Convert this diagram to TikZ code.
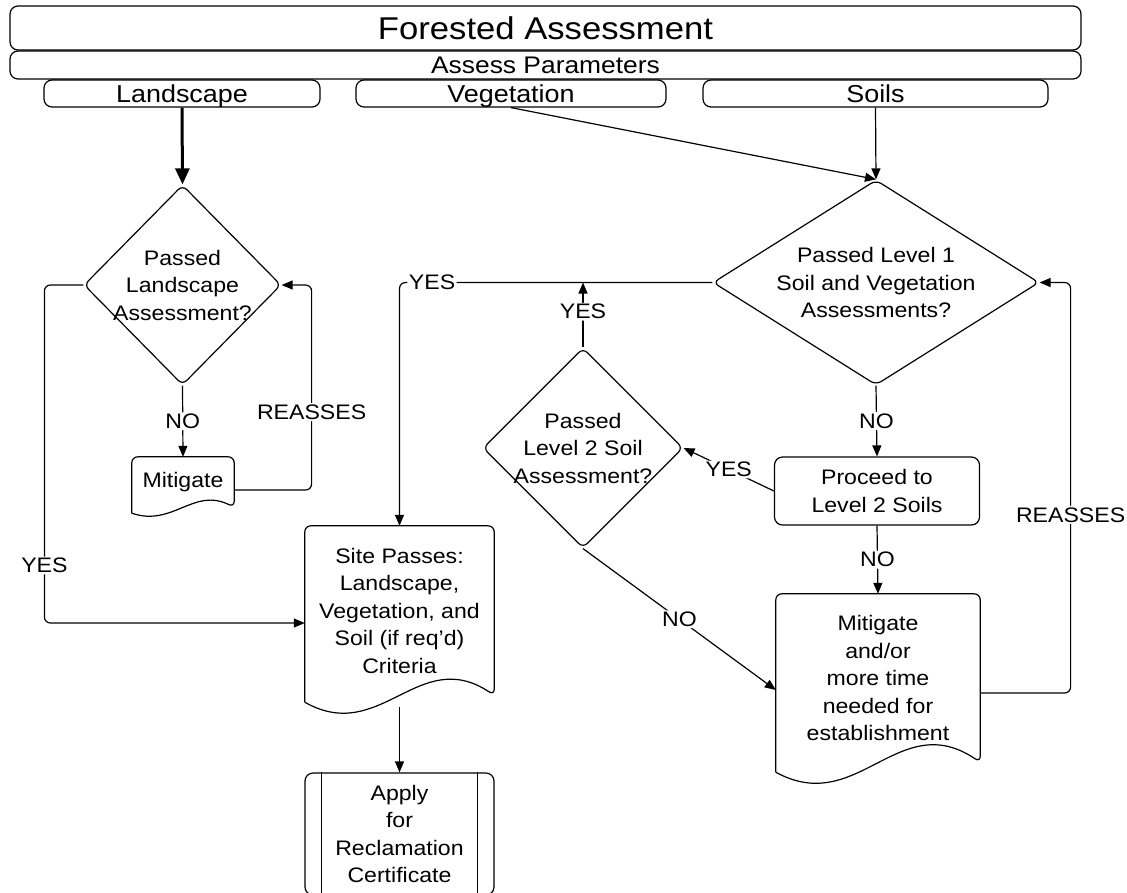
\documentclass[tikz,border=0pt]{standalone}
\usepackage{fontspec}
\setmainfont{Liberation Sans}[FakeStretch=1.1]
\usetikzlibrary{shapes.geometric,arrows.meta,calc}

\tikzset{
  outline/.style={draw, line width=1.2pt},
  bar/.style={outline, rectangle, rounded corners=8pt, inner sep=0pt, text depth=0pt},
  decision/.style={outline, diamond, rounded corners=6pt, inner sep=0pt},
  procbox/.style={outline, rectangle, rounded corners=8pt, inner sep=0pt, align=center},
  docbox/.style={rectangle, inner sep=0pt, align=center},
  conn/.style={line width=1.2pt, rounded corners=6pt, -{Triangle[length=11pt,width=9pt]}},
  lbl/.style={fill=white, inner sep=1.5pt},
}

% document shape: node, wave height, drop of the left corner
\newcommand{\docshape}[3]{%
  \draw[outline, rounded corners=6pt] ([yshift=-#3pt]#1.south west) -- (#1.north west)
    -- (#1.north east) -- (#1.south east)
    .. controls ($(#1.south east)!0.4!(#1.south west)+(0,-#2)$)
    and ($(#1.south west)!0.4!(#1.south east)+(0,#2)$) .. ([yshift=-#3pt]#1.south west);
}

\begin{document}
\begin{tikzpicture}[x=1pt, y=-1pt, font=\fontsize{21}{27.5}\selectfont]
  \clip (0,0) rectangle (1127,892);

  % header bars
  \node[bar, minimum width=1071pt, minimum height=44pt, font=\fontsize{31.5}{36}\selectfont] (title) at (545.5,28) {Forested Assessment};
  \node[bar, minimum width=1071pt, minimum height=28pt, font=\fontsize{24}{28}\selectfont] (params) at (545.5,65) {Assess Parameters};
  \node[bar, minimum width=276pt, minimum height=27pt, font=\fontsize{24.5}{28}\selectfont] (land) at (182,93.5) {Landscape};
  \node[bar, minimum width=310pt, minimum height=27pt, font=\fontsize{24.5}{28}\selectfont] (veg) at (511,93.5) {Vegetation};
  \node[bar, minimum width=345pt, minimum height=27pt, font=\fontsize{24.5}{28}\selectfont] (soil) at (875.5,93.5) {Soils};

  % decisions
  \node[decision, minimum width=197pt, minimum height=200pt,
        label={[align=center]center:Passed\\Landscape\\Assessment?}] (landq) at (182.5,285) {};
  \node[decision, minimum width=326pt, minimum height=205pt,
        label={[align=center]center:Passed Level 1\\Soil and Vegetation\\Assessments?}] (lvlone) at (876,282.5) {};
  \node[decision, minimum width=200pt, minimum height=200pt,
        label={[align=center]center:Passed\\Level 2 Soil\\Assessment?}] (lvltwo) at (583,448) {};

  % process boxes
  \node[docbox, minimum width=102pt, minimum height=50pt] (mit) at (183,482) {Mitigate};
  \docshape{mit}{20}{6}
  \node[procbox, minimum width=205pt, minimum height=68pt] (proc) at (877,491) {Proceed to\\Level 2 Soils};
  \node[docbox, minimum width=204pt, minimum height=168pt] (mitmore) at (878,678)
    {Mitigate\\and/or\\more time\\needed for\\establishment};
  \docshape{mitmore}{55}{10}
  \node[docbox, minimum width=189pt, minimum height=169pt] (site) at (399.5,610.5)
    {Site Passes:\\Landscape,\\Vegetation, and\\Soil (if req'd)\\Criteria};
  \docshape{site}{50}{7}
  \node[procbox, minimum width=189pt, minimum height=122pt] (apply) at (399.5,834)
    {Apply\\for\\Reclamation\\Certificate};
  \draw[outline] ([xshift=17pt]apply.north west) -- ([xshift=17pt]apply.south west)
                 ([xshift=-17pt]apply.north east) -- ([xshift=-17pt]apply.south east);

  % connectors
  \draw[conn, line width=3pt, -{Triangle[length=16pt,width=14pt]}] (land.south) -- (landq.north);
  \draw[conn] (veg.south) -- (lvlone.north);
  \draw[conn] (soil.south) -- (lvlone.north);
  \draw[conn] (landq.south) -- node[lbl]{NO} (mit.north);
  \draw[conn] ([yshift=-8pt]mit.east) -| node[lbl, pos=0.69]{REASSES} ([xshift=30pt]landq.east) -- (landq.east);
  \draw[conn] (landq.west) -- ([xshift=-39pt]landq.west) |- node[lbl, pos=0.415]{YES} ([yshift=-12.5pt]site.west);
  \draw[conn] (lvlone.west) -| node[lbl, pos=0.448]{YES} (site.north);
  \draw[conn] (lvltwo.north) -- node[lbl, pos=0.55]{YES} (lvltwo.north |- lvlone.west);
  \draw[conn] (lvlone.south) -- node[lbl]{NO} (proc.north);
  \draw[conn] (proc.west) -- node[lbl]{YES} (lvltwo.east);
  \draw[conn] (proc.south) -- node[lbl]{NO} (mitmore.north);
  \draw[conn] (lvltwo.south) -- node[lbl]{NO} ([yshift=-12pt]mitmore.west);
  \draw[conn] ([yshift=-15pt]mitmore.east) -| node[lbl, pos=0.717]{REASSES} ([xshift=31pt]lvlone.east) -- (lvlone.east);
  \draw[conn] ([yshift=-12pt]site.south) -- (apply.north);
\end{tikzpicture}
\end{document}
